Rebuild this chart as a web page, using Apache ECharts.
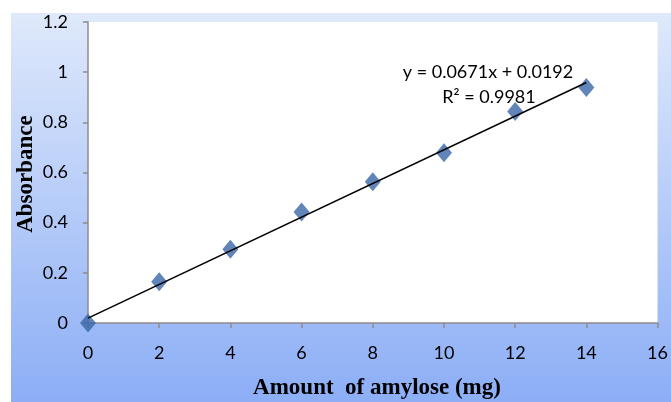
<!doctype html>
<html>
<head>
    <meta charset="UTF-8">
    <title>Amylose standard curve</title>
    <script src="https://cdn.jsdelivr.net/npm/echarts@6/dist/echarts.min.js"></script>
    <style>
        html, body { margin: 0; padding: 0; background: #fff; }
    </style>
</head>
<body>
<div id="main" style="width: 671px;height:402px;"></div>
<script>
    // amount of amylose (mg) vs absorbance
    var amount = [0, 2, 4, 6, 8, 10, 12, 14];
    var absorbance = [0, 0.164, 0.294, 0.443, 0.563, 0.679, 0.843, 0.939];
    // linear trend printed on the chart
    var slope = 0.0671;
    var intercept = 0.0192;
    var eqText = 'y = 0.0671x + 0.0192';
    var r2Text = 'R² = 0.9981';

    var points = amount.map((x, i) => [x, absorbance[i]]);
    var trend = [
        [amount[0], slope * amount[0] + intercept],
        [amount[amount.length - 1], slope * amount[amount.length - 1] + intercept]
    ];

    var labelFont = 'Lato, "Open Sans", sans-serif';

    var myChart = echarts.init(document.getElementById('main'));
    var option = {
        animation: false,
        backgroundColor: '#fff',
        graphic: [
            {
                type: 'rect', z: -10, silent: true,
                shape: { x: 11, y: 13, width: 660, height: 389 },
                style: {
                    fill: new echarts.graphic.LinearGradient(0, 0, 0, 1, [
                        { offset: 0, color: '#dfe9fb' },
                        { offset: 1, color: '#8caef6' }
                    ])
                }
            },
            {
                type: 'text', z: 10, x: 377, y: 388,
                style: {
                    text: 'Amount  of amylose (mg)',
                    font: 'bold 23px "Liberation Serif", serif',
                    fill: '#000', align: 'center', verticalAlign: 'middle'
                }
            },
            {
                type: 'text', z: 10,
                x: 26, y: 174, rotation: Math.PI / 2,
                style: {
                    text: 'Absorbance',
                    font: 'bold 23px "Liberation Serif", serif',
                    fill: '#000', align: 'center', verticalAlign: 'middle'
                }
            },
            {
                type: 'text', z: 10, x: 488, y: 72,
                style: {
                    text: eqText, font: '18px ' + labelFont, fill: '#000',
                    align: 'center', verticalAlign: 'middle'
                }
            },
            {
                type: 'text', z: 10, x: 489, y: 97,
                style: {
                    text: r2Text, font: '18px ' + labelFont, fill: '#000',
                    align: 'center', verticalAlign: 'middle'
                }
            }
        ],
        grid: { left: 88, right: 10, top: 22, bottom: 79, show: true, backgroundColor: '#fff', borderWidth: 0 },
        xAxis: {
            type: 'value', min: 0, max: 16, interval: 2,
            axisLine: { show: true, onZero: false, lineStyle: { color: '#8c8c8c', width: 1.5 } },
            axisTick: { show: true, length: 5, lineStyle: { color: '#8c8c8c', width: 1.5 } },
            splitLine: { show: false },
            axisLabel: { color: '#000', fontSize: 18, fontFamily: labelFont, margin: 21 }
        },
        yAxis: {
            type: 'value', min: 0, max: 1.2, interval: 0.2,
            axisLine: { show: true, onZero: false, lineStyle: { color: '#8c8c8c', width: 1.5 } },
            axisTick: { show: true, length: 5, lineStyle: { color: '#8c8c8c', width: 1.5 } },
            splitLine: { show: false },
            axisLabel: { color: '#000', fontSize: 18, fontFamily: labelFont, margin: 20 }
        },
        series: [
            {
                type: 'line', data: trend, symbol: 'none', z: 3,
                lineStyle: { color: '#000', width: 1.5 }
            },
            {
                type: 'scatter', data: points, symbol: 'diamond', symbolSize: [16, 19], z: 2,
                itemStyle: { color: '#3a66a8' }
            }
        ]
    };
    myChart.setOption(option);
</script>
</body>
</html>
